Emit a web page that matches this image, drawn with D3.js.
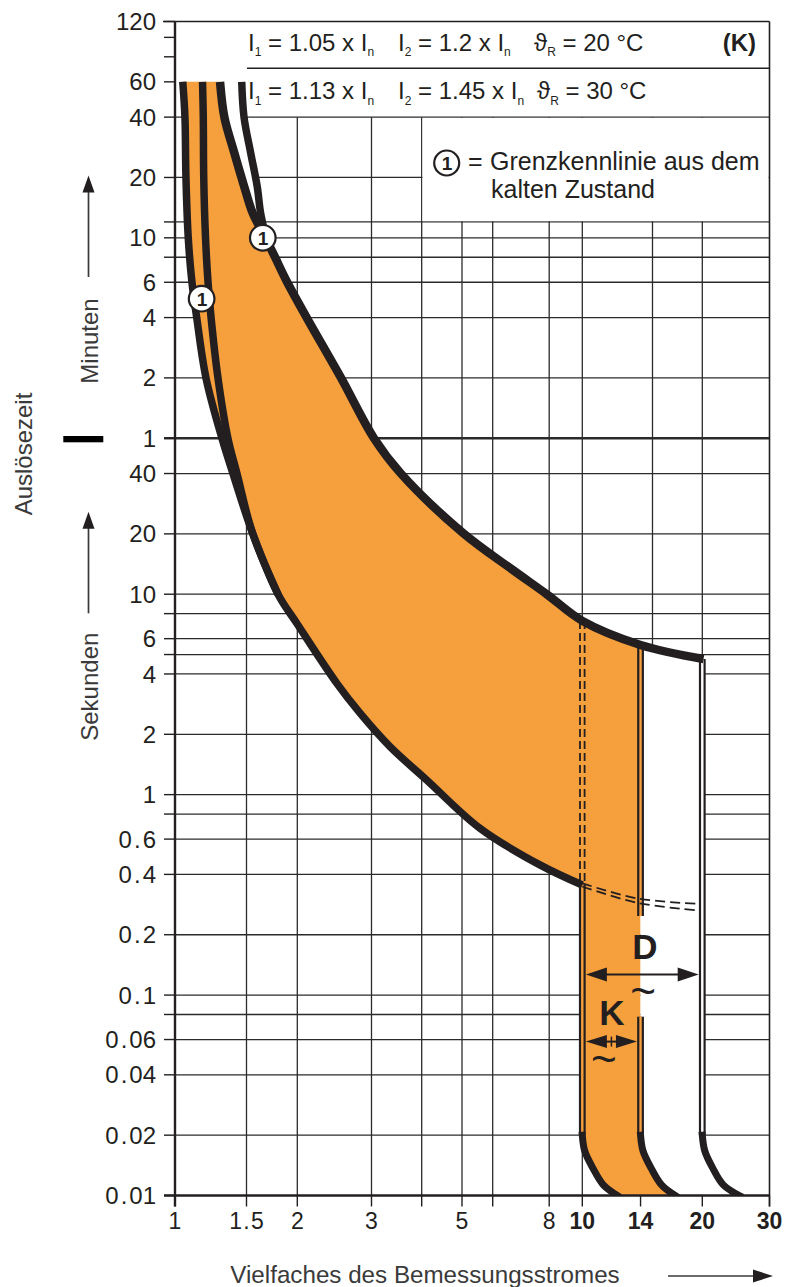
<!DOCTYPE html>
<html>
<head>
<meta charset="utf-8">
<script src="https://cdn.jsdelivr.net/npm/d3@7/dist/d3.min.js"></script>
<style>
html,body{margin:0;padding:0;background:#fff;}
svg{display:block;}
text{font-family:"Liberation Sans",Arial,Helvetica,sans-serif;}
</style>
</head>
<body>
<svg id="chart" width="791" height="1287"></svg>
<script>
// ---------------- data ----------------
const xTickValues = [1, 1.5, 2, 3, 4, 5, 6, 8, 10, 14, 20, 30];
const xTickLabels = ["1", "1.5", "2", "3", "", "5", "", "8", "10", "14", "20", "30"];
const xBoldLabels = ["10", "14", "20", "30"];
const xGridValues = [1.5, 2, 3, 4, 5, 6, 8, 10, 15, 20];

const minuteTickValues = [120, 100, 80, 60, 40, 20, 12, 10, 8, 6, 4, 2, 1];
const minuteTickLabels = ["120", "", "", "60", "40", "20", "", "10", "", "6", "4", "2", "1"];
const minuteGridValues = [40, 20, 12, 10, 8, 6, 4, 2, 1];
const secondTickValues = [40, 20, 10, 8, 6, 5, 4, 2, 1, 0.8, 0.6, 0.4, 0.2, 0.1, 0.08, 0.06, 0.04, 0.02, 0.01];
const secondTickLabels = ["40", "20", "10", "", "6", "", "4", "2", "1", "", "0.6", "0.4", "0.2", "0.1", "", "0.06", "0.04", "0.02", "0.01"];

// curves: [multiple of rated current, trip time in seconds]
const lowerHot = [[1.045, 3600], [1.058, 2400], [1.064, 1200], [1.078, 600], [1.101, 360], [1.131, 240],
  [1.192, 120], [1.305, 60], [1.389, 40], [1.552, 20.2], [1.793, 10], [1.994, 7.16], [2.48, 3.6],
  [2.818, 2.55], [3.335, 1.736], [4.11, 1.184], [5.56, 0.68], [7.63, 0.446], [10, 0.354]];
const lowerCold = [[1.169, 3600], [1.174, 2400], [1.177, 1200], [1.189, 600], [1.206, 360], [1.227, 240],
  [1.276, 120], [1.35, 60], [1.421, 40], [1.552, 20.2], [1.793, 10]];
const upperHot = [[1.291, 3600], [1.323, 2400], [1.40, 1590], [1.481, 1080], [1.554, 796], [1.68, 586],
  [1.763, 480], [1.889, 360], [2.105, 240], [2.54, 120], [3.043, 60], [3.55, 40], [5.03, 20.2],
  [6.65, 13.2], [7.9, 10], [10, 7.36], [14, 5.58], [20.15, 4.75]];
const upperCold = [[1.46, 3600], [1.479, 2400], [1.536, 1590], [1.594, 1080], [1.625, 796], [1.68, 586]];
const instK = [[10, 0.02], [10.14, 0.0167], [10.63, 0.0137], [11.29, 0.0113], [12.24, 0.01]];
const instMid = [[14, 0.02], [14.2, 0.0167], [14.88, 0.0137], [15.8, 0.0113], [17.1, 0.01]];
const instD = [[20, 0.02], [20.3, 0.0167], [21.3, 0.0137], [22.7, 0.0113], [25.0, 0.01]];
const dashUpper = [[10, 0.361], [13.7, 0.304], [19.6, 0.285]];
const dashLower = [[10, 0.348], [13.7, 0.289], [19.6, 0.264]];
const line10Dashed = [7.36, 0.354];
const line10Solid = [0.354, 0.02];
const line14Segments = [[5.58, 0.248], [0.078, 0.02]];
const line20Segment = [4.75, 0.02];
const coldMarkers = [[1.163, 298], [1.645, 600]];
const arrowD = {from: 10, to: 20, t: 0.1265, label: "D", labelAt: [14.36, 0.175], tildeAt: [14.2, 0.1]};
const arrowK = {from: 10, to: 14, t: 0.0586, label: "K", labelAt: [11.87, 0.0819], tildeAt: [11.33, 0.0458]};

const headerRows = [
  {y: 50.5, segs: [
    {x: 248, parts: [["I"], ["1", 1], [" = 1.05 x I"], ["n", 1]]},
    {x: 398, parts: [["I"], ["2", 1], [" = 1.2 x I"], ["n", 1]]},
    {x: 534, parts: [["\u03D1"], ["R", 1], [" = 20 \u00B0C"]]}]},
  {y: 99, segs: [
    {x: 248, parts: [["I"], ["1", 1], [" = 1.13 x I"], ["n", 1]]},
    {x: 398, parts: [["I"], ["2", 1], [" = 1.45 x I"], ["n", 1]]},
    {x: 537, parts: [["\u03D1"], ["R", 1], [" = 30 \u00B0C"]]}]}
];
const headerTag = "(K)";
const legendLines = ["Grenzkennlinie aus dem", "kalten Zustand"];
const yTitle = "Auslösezeit", yMinTitle = "Minuten", ySecTitle = "Sekunden";
const xTitle = "Vielfaches des Bemessungsstromes";

// ---------------- chart ----------------
const INK = "#231f20", GRID = "#2b2b2b", ORANGE = "#f69f3d", TXT = "#231f20", SOFT = "#3a3a3a";
const svg = d3.select("#chart");

const x = d3.scaleLog()
  .domain([1, 1.5, 2, 3, 4, 5, 6, 8, 10, 20, 30])
  .range([175, 246.5, 297.3, 371.5, 421.7, 462, 492.7, 549.2, 582.3, 702.3, 769.5]);
const y = d3.scaleLog().domain([0.01, 7200]).range([1195.5, 21.5]);

const X0 = x(1), X1 = x(30), Y0 = y(0.01), YT = y(7200), YG = y(2400);

svg.append("defs").append("clipPath").attr("id", "plotClip")
  .append("rect").attr("x", X0).attr("y", YT).attr("width", X1 - X0).attr("height", Y0 - YT);

// grid
const hVals = minuteGridValues.map(m => m * 60).concat(secondTickValues.filter(s => s > 0.01));
const gGrid = svg.append("g");
gGrid.selectAll(".h").data(hVals).join("line").attr("class", "h")
  .attr("x1", X0).attr("x2", X1).attr("y1", d => y(d)).attr("y2", d => y(d))
  .attr("stroke", GRID).attr("stroke-width", d => d === 60 ? 2.4 : 1.3);
gGrid.selectAll(".v").data(xGridValues).join("line").attr("class", "v")
  .attr("x1", d => x(d)).attr("x2", d => x(d)).attr("y1", YG).attr("y2", Y0)
  .attr("stroke", GRID).attr("stroke-width", 1.3);

// legend box (white)
svg.append("rect").attr("x", x(4) + 0.8).attr("y", YG + 0.8)
  .attr("width", X1 - x(4) - 1.6).attr("height", y(720) - YG - 1.6).attr("fill", "#fff");

// generators
const lc = d3.line().x(d => x(d[0])).y(d => y(d[1])).curve(d3.curveCatmullRom.alpha(0.5));
const ll = d3.line().x(d => x(d[0])).y(d => y(d[1]));
const cat = (...ps) => ps.map((p, i) => i ? p.replace(/^M/, "L") : p).join("") + "Z";
const rev = a => a.slice().reverse();
const last = a => a[a.length - 1];

const gFill = svg.append("g").attr("clip-path", "url(#plotClip)");
const i14 = upperHot.findIndex(d => d[0] === 14);
const upperTo14 = upperHot.slice(0, i14 + 1);
const upperFrom14 = upperHot.slice(i14);

// orange band
gFill.append("path").attr("fill", ORANGE).attr("d", cat(
  lc(lowerHot),
  ll([last(lowerHot), [10, 0.02]]),
  lc(instK),
  ll([last(instK), last(instMid)]),
  lc(rev(instMid)),
  ll([[14, 0.02], last(upperTo14)]),
  lc(rev(upperTo14))
));
// white strip between 14 and 20
gFill.append("path").attr("fill", "#fff").attr("d", cat(
  ll(upperFrom14),
  ll([last(upperFrom14), [20, last(upperFrom14)[1]], [20, 0.02]]),
  lc(instD),
  ll([last(instD), last(instMid)]),
  lc(rev(instMid))
));
// white wedge between hot and cold upper limit
const iM = upperHot.findIndex(d => d[1] === 586);
gFill.append("path").attr("fill", "#fff").attr("d", cat(
  lc(upperHot.slice(0, iM + 1)), lc(rev(upperCold))
));

// double lines
const gL = svg.append("g").attr("clip-path", "url(#plotClip)");
function dbl(v, s1, s2, inner) {
  gL.append("line").attr("x1", x(v)).attr("x2", x(v)).attr("y1", y(s1)).attr("y2", y(s2))
    .attr("stroke", INK).attr("stroke-width", 6.8);
  gL.append("line").attr("x1", x(v)).attr("x2", x(v)).attr("y1", y(s1)).attr("y2", y(s2))
    .attr("stroke", inner).attr("stroke-width", 2.4);
}
dbl(10, line10Solid[0], line10Solid[1], ORANGE);
line14Segments.forEach(s => dbl(14, s[0], s[1], ORANGE));
dbl(20, line20Segment[0], line20Segment[1], "#fff");
[-2.3, 2.3].forEach(o => gL.append("line")
  .attr("x1", x(10) + o).attr("x2", x(10) + o).attr("y1", y(line10Dashed[0])).attr("y2", y(line10Dashed[1]))
  .attr("stroke", INK).attr("stroke-width", 1.8).attr("stroke-dasharray", "8,4"));
[dashUpper, dashLower].forEach(a => gL.append("path").attr("d", lc(a)).attr("fill", "none")
  .attr("stroke", INK).attr("stroke-width", 1.8).attr("stroke-dasharray", "10,5"));

// thick curves
[[lowerCold, 7.5], [lowerHot, 7.5], [upperCold, 7.5], [upperHot, 8.5]].forEach(([a, w]) => gL.append("path").attr("d", lc(a))
  .attr("fill", "none").attr("stroke", INK).attr("stroke-width", w).attr("stroke-linejoin", "round"));
[instK, instMid, instD].forEach(a => gL.append("path").attr("d", lc(a))
  .attr("fill", "none").attr("stroke", INK).attr("stroke-width", 7).attr("stroke-linecap", "square"));

// cold-state markers
function circledOne(cx, cy) {
  svg.append("circle").attr("cx", cx).attr("cy", cy).attr("r", 12.8)
    .attr("fill", "#fff").attr("stroke", INK).attr("stroke-width", 2.2);
  svg.append("text").attr("x", cx + 0.3).attr("y", cy + 6.8).attr("text-anchor", "middle")
    .attr("font-size", 19).attr("font-weight", "bold").attr("fill", INK).text("1");
}
coldMarkers.forEach(d => circledOne(x(d[0]), y(d[1])));

// arrows D and K
function hArrow(x1, x2, yy, hl, hh) {
  svg.append("line").attr("x1", x1 + hl - 1).attr("x2", x2 - hl + 1).attr("y1", yy).attr("y2", yy)
    .attr("stroke", INK).attr("stroke-width", 2);
  svg.append("path").attr("fill", INK)
    .attr("d", `M${x1},${yy}L${x1 + hl},${yy - hh}L${x1 + hl},${yy + hh}Z`);
  svg.append("path").attr("fill", INK)
    .attr("d", `M${x2},${yy}L${x2 - hl},${yy - hh}L${x2 - hl},${yy + hh}Z`);
}
hArrow(x(arrowD.from) + 3.6, x(arrowD.to) - 3.6, y(arrowD.t), 21, 7);
hArrow(x(arrowK.from) + 3.6, x(arrowK.to) - 3.6, y(arrowK.t), 21, 6.5);
svg.append("line").attr("x1", (x(arrowK.from) + x(arrowK.to)) / 2).attr("x2", (x(arrowK.from) + x(arrowK.to)) / 2)
  .attr("y1", y(arrowK.t) - 5).attr("y2", y(arrowK.t) + 5).attr("stroke", INK).attr("stroke-width", 1.5);
[arrowD, arrowK].forEach(a => {
  svg.append("text").attr("x", x(a.labelAt[0])).attr("y", y(a.labelAt[1]) + 12.5)
    .attr("text-anchor", "middle").attr("font-size", 35).attr("font-weight", "bold").attr("fill", INK).text(a.label);
  svg.append("text").attr("x", x(a.tildeAt[0])).attr("y", y(a.tildeAt[1]) + 11)
    .attr("text-anchor", "middle").attr("font-size", 44).attr("fill", INK).text("~");
});

// frame & axes
const gA = svg.append("g");
gA.append("line").attr("x1", X0 - 12).attr("x2", X1).attr("y1", YT).attr("y2", YT).attr("stroke", INK).attr("stroke-width", 1.6);
gA.append("line").attr("x1", X1).attr("x2", X1).attr("y1", YT).attr("y2", Y0 + 11).attr("stroke", INK).attr("stroke-width", 1.6);
gA.append("line").attr("x1", X0).attr("x2", X0).attr("y1", YT).attr("y2", Y0 + 11).attr("stroke", INK).attr("stroke-width", 2.4);
gA.append("line").attr("x1", X0 - 11).attr("x2", X1).attr("y1", Y0).attr("y2", Y0).attr("stroke", INK).attr("stroke-width", 2.6);
// header separator
gA.append("line").attr("x1", 247).attr("x2", X1).attr("y1", 68.3).attr("y2", 68.3).attr("stroke", INK).attr("stroke-width", 1.5);

// y ticks
const yTicks = minuteTickValues.map((m, i) => ({v: m * 60, label: minuteTickLabels[i]}))
  .concat(secondTickValues.map((s, i) => ({v: s, label: secondTickLabels[i]})));
gA.selectAll(".yt").data(yTicks).join("line").attr("class", "yt")
  .attr("x1", X0 - 11).attr("x2", X0).attr("y1", d => y(d.v)).attr("y2", d => y(d.v))
  .attr("stroke", INK).attr("stroke-width", d => d.v === 60 ? 2.4 : 1.4);
function numLabel(sel, str, gap) {
  const p = str.split(".");
  if (p.length === 1) { sel.text(str); return; }
  sel.append("tspan").text(p[0]);
  sel.append("tspan").attr("dx", gap).text(".");
  sel.append("tspan").attr("dx", gap).text(p[1]);
}
yTicks.filter(d => d.label).forEach(d => {
  const t = gA.append("text").attr("x", 156).attr("y", y(d.v) + 8.6)
    .attr("text-anchor", "end").attr("font-size", 24).attr("fill", TXT);
  numLabel(t, d.label, 2);
});
// x ticks
gA.selectAll(".xt").data(xTickValues).join("line").attr("class", "xt")
  .attr("x1", d => x(d)).attr("x2", d => x(d)).attr("y1", Y0).attr("y2", Y0 + 11)
  .attr("stroke", INK).attr("stroke-width", 1.4);
xTickValues.forEach((v, i) => {
  if (!xTickLabels[i]) return;
  const t = gA.append("text").attr("x", x(v)).attr("y", 1229).attr("text-anchor", "middle")
    .attr("font-size", 23).attr("fill", TXT)
    .attr("font-weight", xBoldLabels.includes(xTickLabels[i]) ? "bold" : "normal");
  numLabel(t, xTickLabels[i], 1.2);
});

// header text
headerRows.forEach(r => r.segs.forEach(s => {
  const t = svg.append("text").attr("x", s.x).attr("y", r.y).attr("font-size", 24).attr("fill", TXT);
  let sub = false;
  s.parts.forEach(p => {
    const isSub = !!p[1];
    const ts = t.append("tspan").text(p[0]);
    if (isSub && !sub) ts.attr("dy", 5.5);
    if (!isSub && sub) ts.attr("dy", -5.5);
    if (isSub) ts.attr("font-size", 12);
    sub = isSub;
  });
}));
svg.append("text").attr("x", 756).attr("y", 50.5).attr("text-anchor", "end")
  .attr("font-size", 24).attr("font-weight", "bold").attr("fill", TXT).text(headerTag);

// legend
svg.append("circle").attr("cx", 446.7).attr("cy", 163).attr("r", 12.5)
  .attr("fill", "#fff").attr("stroke", INK).attr("stroke-width", 2.2);
svg.append("text").attr("x", 447).attr("y", 169.8).attr("text-anchor", "middle")
  .attr("font-size", 19).attr("font-weight", "bold").attr("fill", INK).text("1");
svg.append("text").attr("x", 468).attr("y", 170).attr("font-size", 25).attr("fill", TXT).text("=");
svg.append("text").attr("x", 490).attr("y", 170).attr("font-size", 25).attr("fill", TXT).text(legendLines[0]);
svg.append("text").attr("x", 491).attr("y", 198).attr("font-size", 25).attr("fill", TXT).text(legendLines[1]);

// axis titles
svg.append("text").attr("transform", "translate(31.5,454) rotate(-90)").attr("text-anchor", "middle")
  .attr("font-size", 24).attr("fill", SOFT).text(yTitle);
svg.append("text").attr("transform", "translate(97.5,341) rotate(-90)").attr("text-anchor", "middle")
  .attr("font-size", 24).attr("fill", SOFT).text(yMinTitle);
svg.append("text").attr("transform", "translate(97.5,686.7) rotate(-90)").attr("text-anchor", "middle")
  .attr("font-size", 24).attr("fill", SOFT).text(ySecTitle);
svg.append("rect").attr("x", 63.3).attr("y", 436).attr("width", 40).attr("height", 6.3).attr("fill", "#000");
function vArrowUp(ax, yTip, yEnd) {
  svg.append("line").attr("x1", ax).attr("x2", ax).attr("y1", yTip + 14).attr("y2", yEnd)
    .attr("stroke", SOFT).attr("stroke-width", 1.7);
  svg.append("path").attr("fill", INK).attr("d", `M${ax},${yTip}L${ax - 6},${yTip + 17}L${ax + 6},${yTip + 17}Z`);
}
vArrowUp(88.5, 175.5, 277);
vArrowUp(88.5, 511.7, 613.3);

svg.append("text").attr("x", 425).attr("y", 1283).attr("text-anchor", "middle")
  .attr("font-size", 24.2).attr("fill", SOFT).text(xTitle);
svg.append("line").attr("x1", 668).attr("x2", 756).attr("y1", 1276).attr("y2", 1276).attr("stroke", SOFT).attr("stroke-width", 1.7);
svg.append("path").attr("fill", INK).attr("d", "M773,1276L753,1269.5L753,1282.5Z");
</script>
</body>
</html>
